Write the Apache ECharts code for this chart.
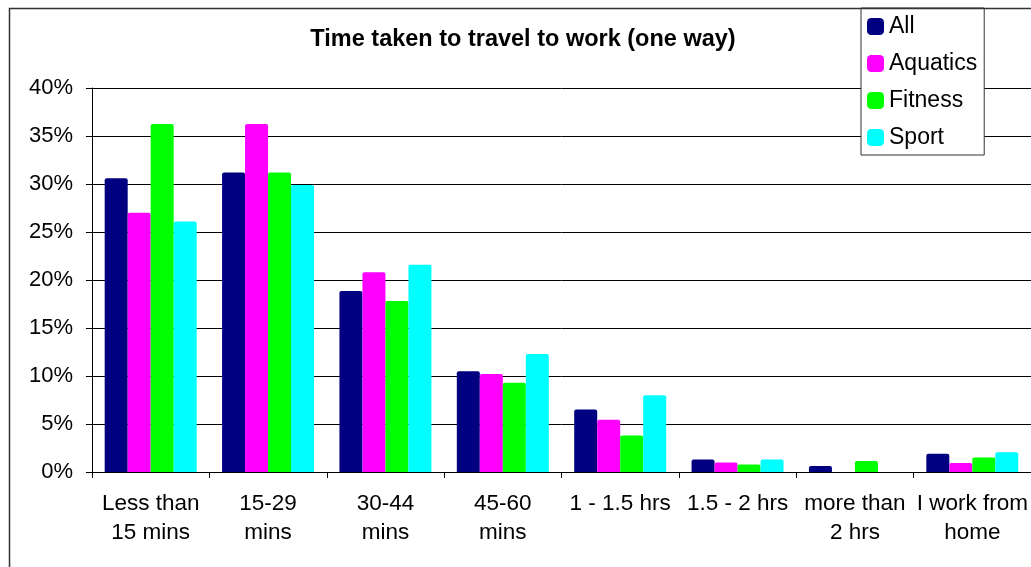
<!DOCTYPE html>
<html>
<head>
<meta charset="utf-8">
<script src="https://cdn.jsdelivr.net/npm/echarts@6/dist/echarts.min.js"></script>
<style>
html,body{margin:0;padding:0;background:#fff;}
#chart{width:1031px;height:567px;}
</style>
</head>
<body>
<div id="chart"></div>
<script>
const titleText = 'Time taken to travel to work (one way)';
const categories = ['Less than\n15 mins', '15-29\nmins', '30-44\nmins', '45-60\nmins', '1 - 1.5 hrs', '1.5 - 2 hrs', 'more than\n2 hrs', 'I work from\nhome'];
const seriesNames = ['All', 'Aquatics', 'Fitness', 'Sport'];
const allValues      = [30.6, 31.2, 18.85, 10.5, 6.5, 1.3, 0.63, 1.9];
const aquaticsValues = [27.0, 36.25, 20.8, 10.2, 5.45, 0.98, 0, 0.94];
const fitnessValues  = [36.25, 31.2, 17.8, 9.3, 3.8, 0.77, 1.15, 1.5];
const sportValues    = [26.1, 29.9, 21.6, 12.3, 8.0, 1.3, 0, 2.05];
const yTicks = [0, 5, 10, 15, 20, 25, 30, 35, 40];
const colors = ['#000080', '#FF00FF', '#00FF00', '#00FFFF'];

const seriesData = [allValues, aquaticsValues, fitnessValues, sportValues];
const FONT = 'Liberation Sans, Arial, sans-serif';

const chart = echarts.init(document.getElementById('chart'), null, {renderer: 'canvas'});
chart.setOption({
  animation: false,
  backgroundColor: '#fff',
  color: colors,
  title: {
    text: titleText,
    left: 518, top: 23, textAlign: 'center',
    textStyle: {fontFamily: FONT, fontSize: 23.5, fontWeight: 'bold', color: '#000'}
  },
  legend: {
    orient: 'vertical',
    left: 861, top: 8,
    padding: [7, 7, 6, 6],
    backgroundColor: '#fff',
    borderColor: '#333',
    borderWidth: 1,
    itemWidth: 17, itemHeight: 17, itemGap: 14,
    icon: 'roundRect',
    textStyle: {fontFamily: FONT, fontSize: 23, color: '#000'},
    data: seriesNames
  },
  grid: {left: 92, right: 0, top: 88, height: 384, containLabel: false},
  xAxis: {
    type: 'category',
    data: categories,
    axisLine: {lineStyle: {color: '#000', width: 1}},
    axisTick: {show: true, length: 6, lineStyle: {color: '#000'}},
    axisLabel: {fontFamily: FONT, fontSize: 22.5, color: '#000', lineHeight: 29, margin: 17, interval: 0}
  },
  yAxis: {
    type: 'value',
    min: 0, max: 40, interval: 5,
    axisLine: {show: true, lineStyle: {color: '#000', width: 1}},
    axisTick: {show: true, length: 6, lineStyle: {color: '#000'}},
    axisLabel: {fontFamily: FONT, fontSize: 22, color: '#000', margin: 19,
      formatter: v => yTicks.indexOf(v) >= 0 ? v + '%' : ''},
    splitLine: {show: true, lineStyle: {color: '#000', width: 1}}
  },
  series: seriesNames.map((name, i) => ({
    name: name,
    type: 'bar',
    data: seriesData[i],
    barWidth: 23,
    barGap: '0%',
    itemStyle: {color: colors[i], borderRadius: [2, 2, 0, 0]}
  })),
  graphic: [{
    type: 'rect',
    shape: {x: 9.5, y: 8.5, width: 1030, height: 600},
    style: {fill: 'none', stroke: '#333', lineWidth: 1.5},
    z: 100, silent: true
  }]
});
</script>
</body>
</html>
